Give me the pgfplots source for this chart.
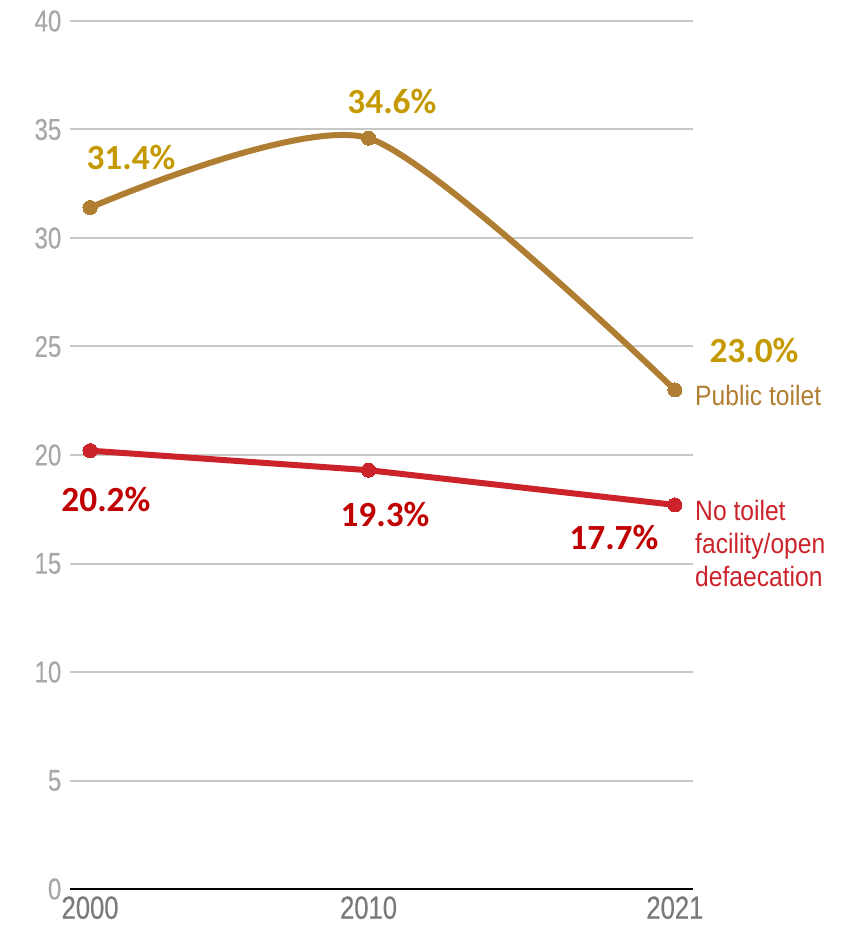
\documentclass[border=0pt]{standalone}
\usepackage{pgfplots}
\pgfplotsset{compat=1.18}
\usepackage{fontspec}
\setmainfont{Liberation Sans}
\newfontfamily\condfont[FakeStretch=0.8, FakeBold=0.4]{Liberation Sans}
\newfontfamily\labfont[FakeStretch=0.88]{Liberation Sans}
\newfontfamily\valfont{Carlito}
\definecolor{goldline}{HTML}{B07E32}
\definecolor{goldval}{HTML}{C49A00}
\definecolor{redline}{HTML}{CC2229}
\definecolor{redval}{HTML}{C00000}
\definecolor{ytick}{HTML}{A8A8A8}
\definecolor{xtick}{HTML}{7A7A7A}
\definecolor{gridc}{HTML}{C8C8C8}
\begin{document}
\begin{tikzpicture}
\path[use as bounding box] (0,0) rectangle (645.75pt,702pt);
\begin{axis}[
  at={(52.5pt,35.25pt)}, anchor=origin,
  scale only axis,
  width=467.25pt, height=651pt,
  xmin=1999.28, xmax=2021.65,
  ymin=0, ymax=40,
  clip=false,
  axis line style={draw=none},
  axis x line*=bottom,
  xtick={2000,2010,2021},
  xticklabels={2000,2010,2021},
  ytick={0,5,...,40},
  major tick length=0pt,
  ymajorgrids,
  grid style={draw=gridc, line width=1.5pt},
  /pgf/number format/assume math mode=true,
  yticklabel style={font=\condfont\fontsize{22.5}{22.5}\selectfont, text=ytick, xshift=-3pt},
  xticklabel style={font=\condfont\fontsize{24}{24}\selectfont, text=xtick, yshift=-2pt},
]
\draw[black, line width=2.2pt] (axis cs:1999.28,0) -- (axis cs:2021.65,0);
\addplot[goldline, line width=4.5pt, smooth, tension=0.42, mark=*, mark size=5.3pt, mark options={fill=goldline, draw=goldline, line width=0pt}]
  coordinates {(2000,31.4) (2010,34.6) (2021,23.0)};
\addplot[redline, line width=4.5pt, mark=*, mark size=5.3pt, mark options={fill=redline, draw=redline, line width=0pt}]
  coordinates {(2000,20.2) (2010,19.3) (2021,17.7)};
\node[font=\valfont\bfseries\fontsize{26.5}{26.5}\selectfont, text=goldval] at (axis cs:2001.47,33.73) {31.4\%};
\node[font=\valfont\bfseries\fontsize{26.5}{26.5}\selectfont, text=goldval] at (axis cs:2010.84,36.27) {34.6\%};
\node[font=\valfont\bfseries\fontsize{26.5}{26.5}\selectfont, text=goldval] at (axis cs:2023.84,24.84) {23.0\%};
\node[font=\valfont\bfseries\fontsize{26.5}{26.5}\selectfont, text=redval] at (axis cs:2000.57,17.93) {20.2\%};
\node[font=\valfont\bfseries\fontsize{26.5}{26.5}\selectfont, text=redval] at (axis cs:2010.59,17.24) {19.3\%};
\node[font=\valfont\bfseries\fontsize{26.5}{26.5}\selectfont, text=redval] at (axis cs:2018.81,16.22) {17.7\%};
\node[font=\labfont\fontsize{21}{24.75}\selectfont, text=goldline, anchor=west, inner sep=0pt] at (axis cs:2021.72,22.72) {Public toilet};
\node[font=\labfont\fontsize{21}{24.75}\selectfont, text=redline, anchor=north west, align=left, inner sep=0pt] at (axis cs:2021.72,17.92) {No toilet\\facility/open\\defaecation};
\end{axis}
\end{tikzpicture}
\end{document}
